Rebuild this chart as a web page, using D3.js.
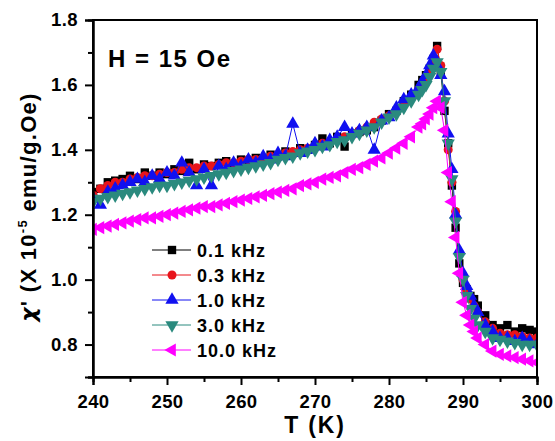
<!DOCTYPE html>
<html><head><meta charset="utf-8">
<script src="https://cdn.jsdelivr.net/npm/d3@7"></script>
<style>
html,body{margin:0;padding:0;background:#fff;}
svg{display:block;font-family:"Liberation Sans",Arial,sans-serif;font-weight:bold;}
</style></head>
<body><svg id="c" width="555" height="441"></svg>
<script>
const temps = [240,241,242,243,244,245,246,247,248,249,250,251,252,253,254,255,256,257,258,259,260,261,262,263,264,265,266,267,268,269,270,271,272,273,274,275,276,277,278,279,280,281,282,283,284,284.5,285,285.5,286,286.5,287,287.5,288,288.5,289,289.5,290,290.5,291,291.5,292,293,294,295,296,297,298,299,300];

const chi_0p1 = [1.27,1.28,1.30,1.305,1.31,1.32,1.31,1.33,1.32,1.33,1.325,1.34,1.335,1.36,1.34,1.355,1.35,1.36,1.365,1.355,1.37,1.365,1.375,1.37,1.385,1.38,1.395,1.39,1.405,1.40,1.415,1.435,1.42,1.44,1.41,1.45,1.455,1.46,1.47,1.49,1.51,1.52,1.55,1.57,1.60,1.615,1.63,1.65,1.68,1.72,1.64,1.52,1.42,1.29,1.16,1.05,0.99,0.97,0.95,0.94,0.92,0.89,0.86,0.85,0.86,0.84,0.85,0.845,0.84];
const chi_0p3 = [1.26,1.28,1.29,1.30,1.30,1.31,1.315,1.32,1.32,1.325,1.33,1.33,1.34,1.345,1.345,1.35,1.35,1.355,1.36,1.36,1.365,1.37,1.37,1.375,1.38,1.385,1.39,1.395,1.40,1.405,1.41,1.42,1.425,1.43,1.44,1.445,1.46,1.47,1.485,1.495,1.505,1.52,1.54,1.56,1.585,1.60,1.62,1.645,1.67,1.71,1.66,1.55,1.40,1.30,1.21,1.08,1.00,0.97,0.94,0.92,0.90,0.87,0.85,0.835,0.83,0.83,0.825,0.82,0.82];
const chi_1p0 = [1.25,1.23,1.27,1.28,1.29,1.30,1.31,1.30,1.32,1.31,1.33,1.32,1.36,1.33,1.29,1.34,1.29,1.35,1.34,1.36,1.35,1.37,1.36,1.38,1.37,1.39,1.38,1.48,1.39,1.40,1.42,1.41,1.43,1.44,1.47,1.45,1.46,1.47,1.40,1.49,1.50,1.53,1.555,1.57,1.59,1.61,1.63,1.66,1.69,1.66,1.63,1.58,1.45,1.34,1.20,1.09,1.02,0.98,0.95,0.92,0.90,0.86,0.84,0.82,0.82,0.81,0.82,0.81,0.80];
const chi_3p0 = [1.24,1.25,1.255,1.26,1.265,1.27,1.275,1.28,1.285,1.29,1.29,1.295,1.30,1.305,1.31,1.315,1.32,1.325,1.33,1.335,1.34,1.345,1.35,1.355,1.36,1.37,1.375,1.38,1.39,1.395,1.40,1.41,1.415,1.425,1.43,1.44,1.45,1.46,1.47,1.485,1.50,1.51,1.53,1.55,1.57,1.585,1.60,1.625,1.65,1.67,1.64,1.55,1.42,1.31,1.18,1.07,1.00,0.95,0.91,0.88,0.86,0.84,0.82,0.815,0.81,0.805,0.80,0.80,0.80];
const chi_10 = [1.155,1.16,1.165,1.17,1.175,1.18,1.185,1.19,1.19,1.195,1.20,1.205,1.21,1.215,1.22,1.225,1.225,1.23,1.235,1.24,1.245,1.25,1.255,1.26,1.265,1.27,1.275,1.28,1.29,1.295,1.30,1.31,1.315,1.32,1.33,1.34,1.345,1.355,1.365,1.375,1.39,1.405,1.42,1.44,1.47,1.48,1.495,1.51,1.53,1.55,1.53,1.46,1.33,1.24,1.13,1.02,0.93,0.89,0.86,0.84,0.82,0.80,0.78,0.77,0.765,0.76,0.755,0.75,0.745];

const seriesNames = ["0.1 kHz","0.3 kHz","1.0 kHz","3.0 kHz","10.0 kHz"];
const seriesColors = ["#000000","#e8141b","#1010f0","#2a8a7e","#ff00ff"];
const seriesShapes = ["square","circle","up","down","left"];
const seriesValues = [chi_0p1, chi_0p3, chi_1p0, chi_3p0, chi_10];

const xTicks = [240,250,260,270,280,290,300];
const xMinor = [245,255,265,275,285,295];
const yTicks = [0.8,1.0,1.2,1.4,1.6,1.8];
const yMinor = [0.7,0.9,1.1,1.3,1.5,1.7];
const fieldLabel = "H = 15 Oe";

const L=93, R=537, T=20, B=377;
const svg = d3.select("#c");
const x = d3.scaleLinear().domain([240,300]).range([L,R]);
const y = d3.scaleLinear().domain([0.7,1.8]).range([B,T]);

svg.append("defs").append("clipPath").attr("id","clip")
  .append("rect").attr("x",L).attr("y",T).attr("width",R-L).attr("height",B-T);

function sym(shape){
  if(shape==="square") return {p:d3.symbol(d3.symbolSquare,70)(), r:0};
  if(shape==="circle") return {p:d3.symbol(d3.symbolCircle,64)(), r:0};
  if(shape==="up") return {p:d3.symbol(d3.symbolTriangle,76)(), r:0};
  if(shape==="down") return {p:d3.symbol(d3.symbolTriangle,76)(), r:180};
  return {p:d3.symbol(d3.symbolTriangle,76)(), r:-90};
}

const plot = svg.append("g").attr("clip-path","url(#clip)");
seriesValues.forEach((vals,i)=>{
  const pts = temps.map((t,j)=>[t,vals[j]]);
  const g = plot.append("g");
  g.append("path").datum(pts)
    .attr("fill","none").attr("stroke",seriesColors[i]).attr("stroke-width",1)
    .attr("d",d3.line().x(d=>x(d[0])).y(d=>y(d[1])));
  const s = sym(seriesShapes[i]);
  g.selectAll("path.m").data(pts).join("path").attr("class","m")
    .attr("d",s.p).attr("fill",seriesColors[i])
    .attr("transform",d=>`translate(${x(d[0])},${y(d[1])}) rotate(${s.r})`);
});

// frame
svg.append("rect").attr("x",L).attr("y",T).attr("width",R-L).attr("height",B-T)
  .attr("fill","none").attr("stroke","#000").attr("stroke-width",2);

// axes
const xAxis = svg.append("g").attr("transform",`translate(0,${B})`)
  .call(d3.axisBottom(x).tickValues(xTicks).tickSize(8).tickPadding(10).tickFormat(d3.format("d")));
const xAxisMinor = svg.append("g").attr("transform",`translate(0,${B})`)
  .call(d3.axisBottom(x).tickValues(xMinor).tickSize(5).tickFormat(""));
const yAxis = svg.append("g").attr("transform",`translate(${L},0)`)
  .call(d3.axisLeft(y).tickValues(yTicks).tickSize(8).tickPadding(7).tickFormat(d3.format(".1f")));
const yAxisMinor = svg.append("g").attr("transform",`translate(${L},0)`)
  .call(d3.axisLeft(y).tickValues(yMinor).tickSize(5).tickFormat(""));
[xAxis,xAxisMinor,yAxis,yAxisMinor].forEach(a=>{
  a.select(".domain").attr("stroke-width",2);
  a.selectAll(".tick line").attr("stroke-width",2);
  a.selectAll("text").attr("font-family","'Liberation Sans',Arial,sans-serif")
    .attr("font-weight","bold").attr("font-size",18.5).attr("letter-spacing",0.4).attr("fill","#000");
});

// axis titles
svg.append("text").attr("x",(L+R)/2).attr("y",433).attr("text-anchor","middle")
  .attr("font-size",23).attr("letter-spacing",1.8).text("T (K)");
const yl = svg.append("text").attr("transform","translate(36,207) rotate(-90)")
  .attr("text-anchor","middle").attr("font-size",22).attr("letter-spacing",1.3);
yl.append("tspan").attr("font-family","'DejaVu Sans',sans-serif").attr("font-style","italic").text("\u03C7");
yl.append("tspan").text("' (X 10");
yl.append("tspan").attr("font-size",13).attr("dy",-9).text("-5");
yl.append("tspan").attr("dy",9).text(" emu/g.Oe)");

// field label
svg.append("text").attr("x",108).attr("y",67).attr("font-size",24).attr("letter-spacing",1.5).text(fieldLabel);

// legend
const leg = svg.append("g");
seriesNames.forEach((n,i)=>{
  const yy = 250 + i*25;
  leg.append("line").attr("x1",152).attr("x2",191).attr("y1",yy).attr("y2",yy)
    .attr("stroke",seriesColors[i]).attr("stroke-width",1);
  const s = sym(seriesShapes[i]);
  leg.append("path").attr("d",s.p).attr("fill",seriesColors[i])
    .attr("transform",`translate(172,${yy}) rotate(${s.r})`);
  leg.append("text").attr("x",197).attr("y",yy+6.5).attr("font-size",18).attr("letter-spacing",1).text(n);
});
</script></body></html>
